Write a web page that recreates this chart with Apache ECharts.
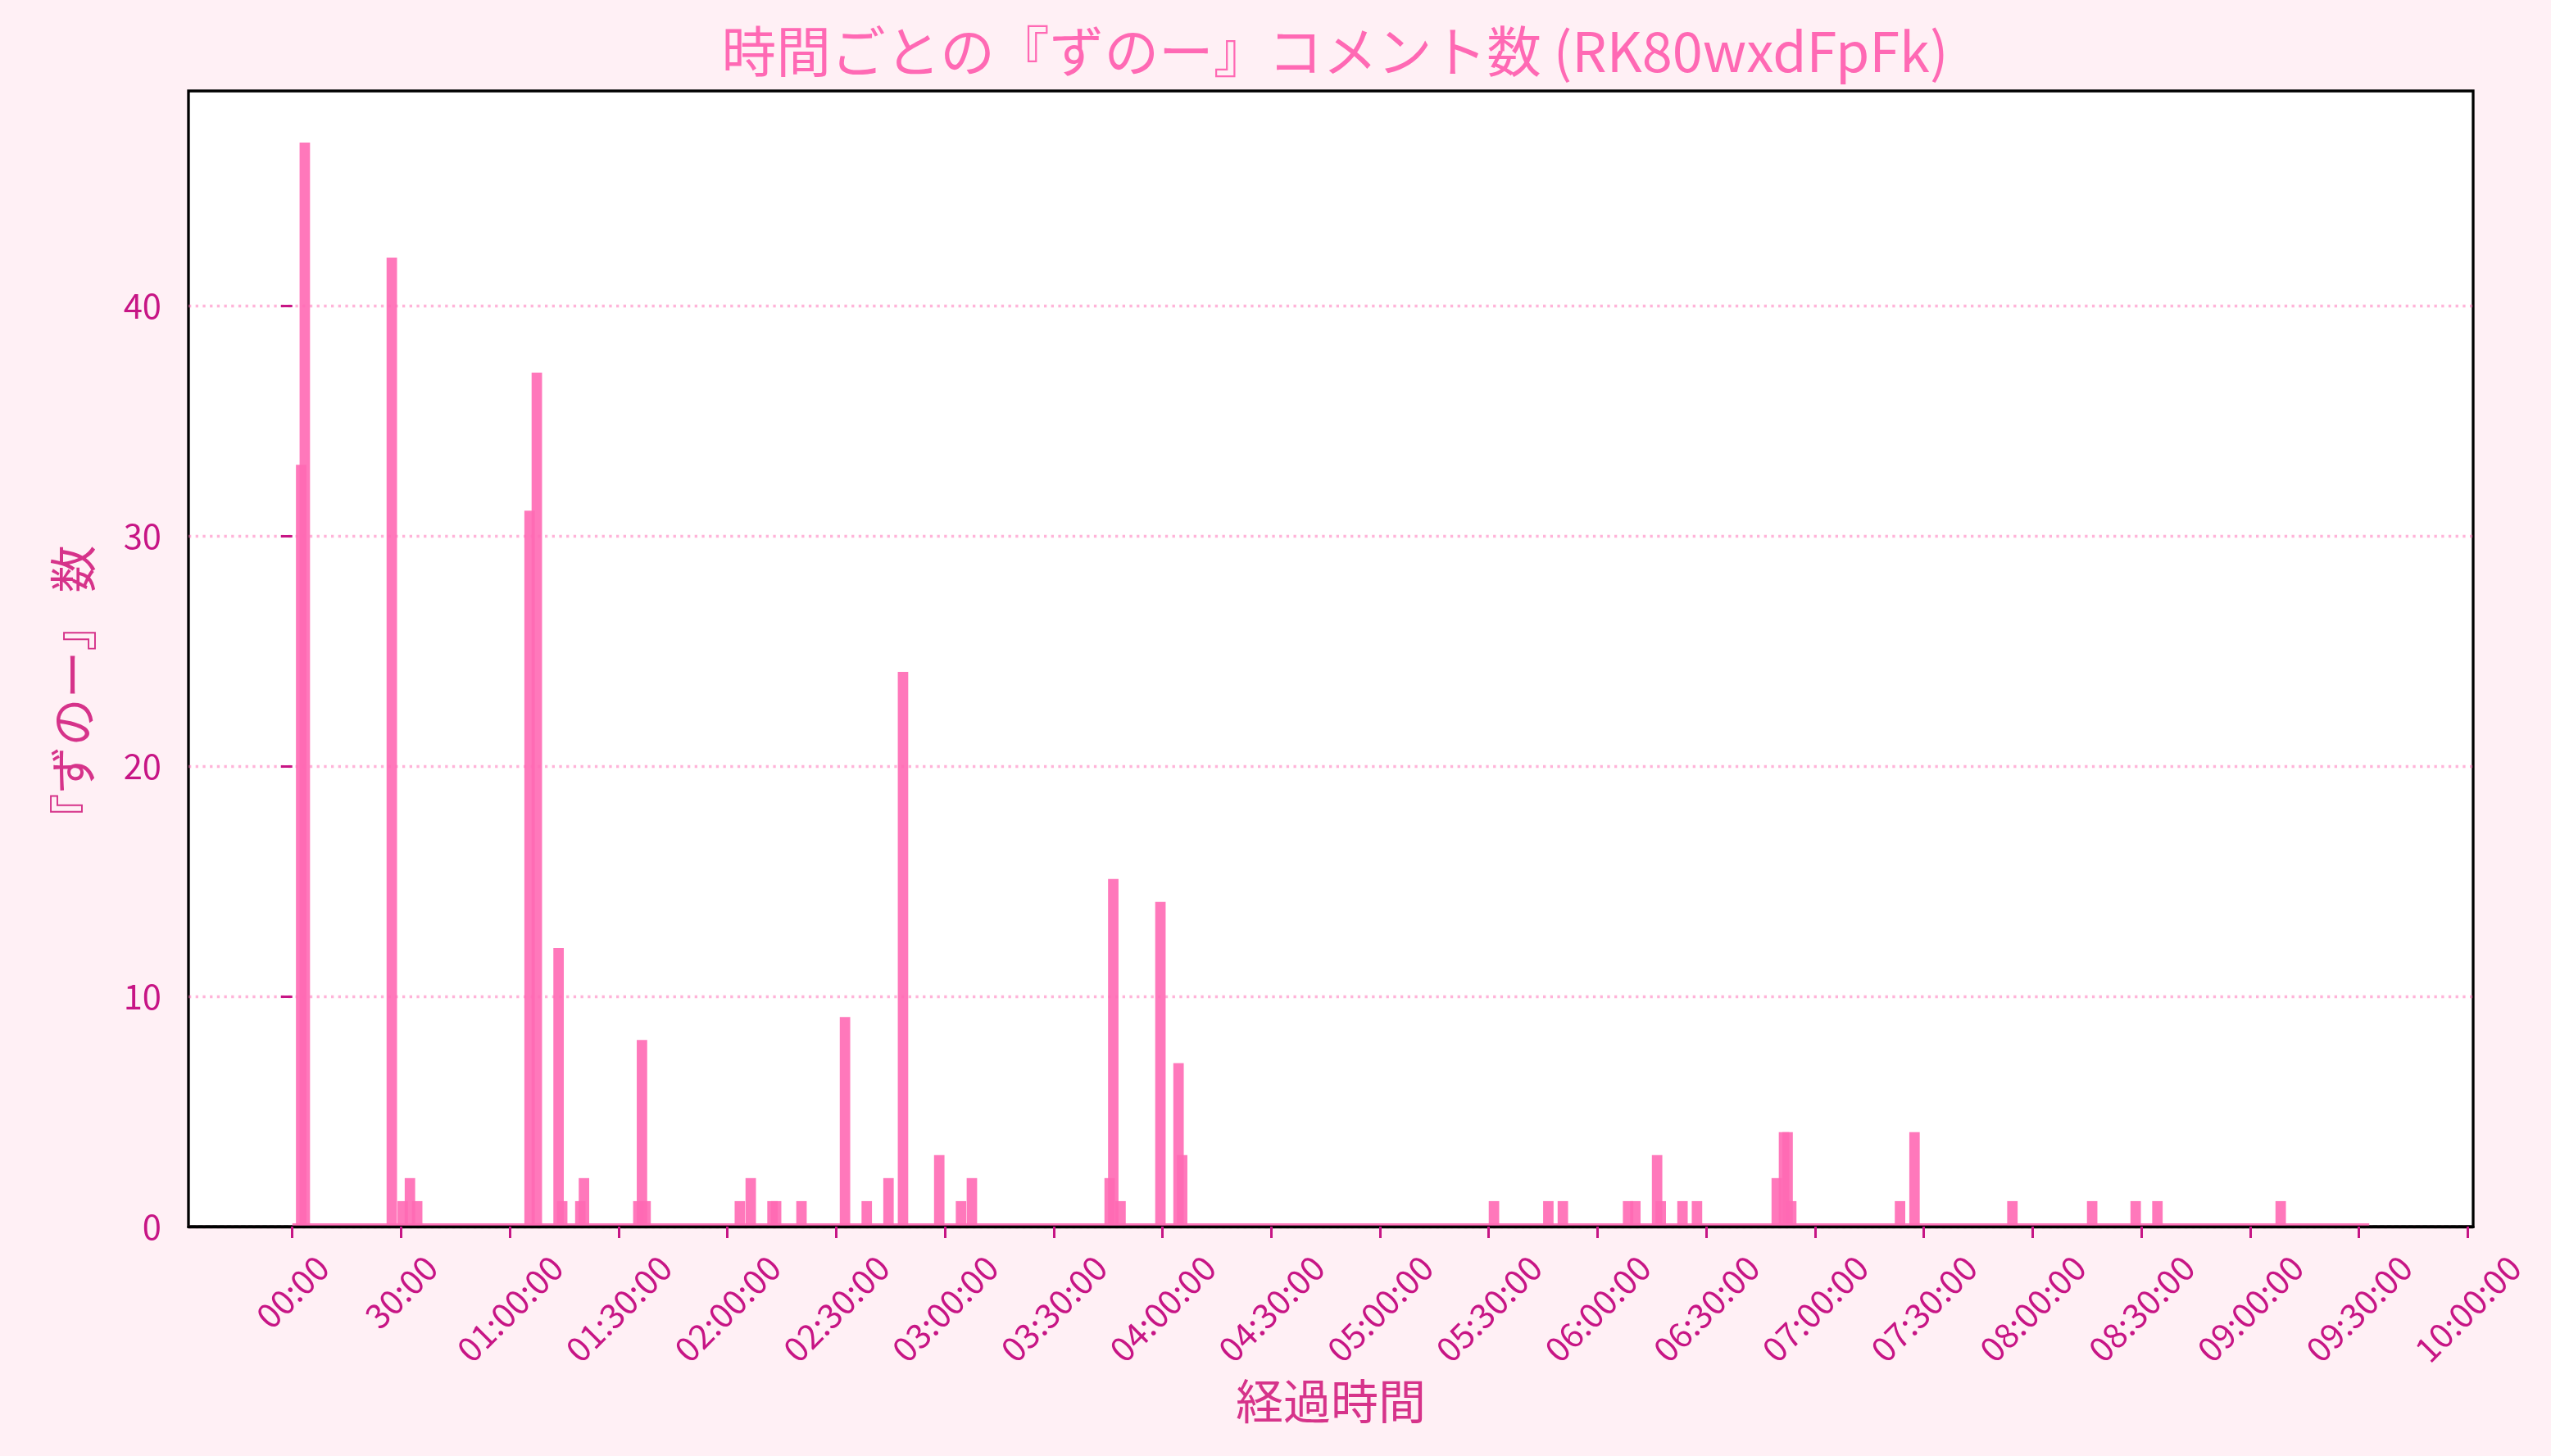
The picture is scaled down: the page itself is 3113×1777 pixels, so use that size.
<!DOCTYPE html>
<html>
<head>
<meta charset="utf-8">
<script src="https://cdn.jsdelivr.net/npm/echarts@6/dist/echarts.min.js"></script>
<style>
html,body{margin:0;padding:0;background:#FFF0F5;}
#chart{width:3113px;height:1777px;}
</style>
</head>
<body>
<div id="chart"></div>
<script>
// ---- data (minute of stream where the 1-minute bin starts, and comment count) ----
const minutes = [1,2,26,29,31,33,64,66,72,73,78,79,94,95,96,122,125,131,132,139,151,157,163,167,177,183,186,224,225,227,238,243,244,330,345,349,367,369,375,376,382,386,408,410,411,412,442,446,473,495,507,513,547];
const counts  = [33,47,42,1,2,1,31,37,12,1,1,2,1,8,1,1,2,1,1,1,9,1,2,24,3,1,2,2,15,1,14,7,3,1,1,1,1,1,3,1,1,1,2,4,4,1,1,4,1,1,1,1,1];
const firstMinute = 0;     // first bin of the stream (zero bins included)
const lastMinute = 570;    // last bin of the stream
const xTicks = [0,30,60,90,120,150,180,210,240,270,300,330,360,390,420,450,480,510,540,570,600];
const yTicks = [0,10,20,30,40];

const TITLE = '時間ごとの『ずのー』コメント数 (RK80wxdFpFk)';
const XNAME = '経過時間';
const YNAME = '『ずのー』 数';

// ---- style ----
const BAR_W = 2.88; // bar width in minutes
const EDGE = 3;     // bar edge thickness in px
const FONT = "'Noto Sans CJK JP','Noto Sans',sans-serif";
const BAR_COLOR = 'rgba(255,105,180,0.9)';
const TICK_COLOR = '#C71585';
const LABEL_COLOR = '#D6338A';
const TICK_FS = 41.7;

const dataEnd = lastMinute + BAR_W;
const xPad = 0.05 * (dataEnd - firstMinute);
const X_MIN = firstMinute - xPad, X_MAX = dataEnd + xPad;
const Y_MAX = Math.max(...counts) * 1.05;

const barData = minutes.map((m, i) => [m, counts[i]]);

function two(n){ return String(n).padStart(2,'0'); }
function fmtTime(m){
  const h = Math.floor(m/60), mm = m % 60;
  return h === 0 ? two(mm) + ':00' : two(h) + ':' + two(mm) + ':00';
}
// measure to centre short/long rotated labels like matplotlib
const cv = document.createElement('canvas').getContext('2d');
cv.font = TICK_FS + "px 'Noto Sans CJK JP'";
const wLong = cv.measureText('00:00:00').width, wShort = cv.measureText('00:00').width;
const PADS = (wLong - wShort) / 2;

const chart = echarts.init(document.getElementById('chart'), null, {renderer:'canvas'});
chart.setOption({
  backgroundColor: '#FFF0F5',
  animation: false,
  textStyle: {fontFamily: FONT},
  title: {
    text: TITLE, left: 1624, top: 24, textAlign: 'center',
    textStyle: {color: '#FF69B4', fontSize: 66.7, fontWeight: 'normal', fontFamily: FONT}
  },
  grid: {left: 230, right: 95, top: 111, bottom: 280, show: true,
         backgroundColor: '#ffffff', borderColor: '#000', borderWidth: 3.3},
  xAxis: {
    type: 'value', min: X_MIN, max: X_MAX, z: 5,
    axisLine: {show: true, onZero: false, lineStyle: {color: '#000', width: 3.3}},
    axisTick: {show: true, customValues: xTicks, length: 14, lineStyle: {color: TICK_COLOR, width: 3}},
    axisLabel: {
      customValues: xTicks, rotate: 45, align: 'center', verticalAlign: 'middle', margin: 100,
      fontSize: TICK_FS, color: TICK_COLOR, fontFamily: FONT,
      formatter: v => { const t = fmtTime(v); return v < 60 ? '{s|' + t + '}' : '{l|' + t + '}'; },
      rich: {
        s: {fontSize: TICK_FS, color: TICK_COLOR, fontFamily: FONT, padding: [0, 0, PADS, PADS]},
        l: {fontSize: TICK_FS, color: TICK_COLOR, fontFamily: FONT}
      }
    },
    splitLine: {show: false},
    name: XNAME, nameLocation: 'middle', nameGap: 184,
    nameTextStyle: {color: LABEL_COLOR, fontSize: 58, fontFamily: FONT}
  },
  yAxis: {
    type: 'value', min: 0, max: Y_MAX, z: 1,
    axisLine: {show: false},
    axisTick: {show: true, customValues: yTicks, length: 14, lineStyle: {color: TICK_COLOR, width: 3}},
    axisLabel: {customValues: yTicks, margin: 33, fontSize: TICK_FS, color: TICK_COLOR, fontFamily: FONT},
    splitLine: {show: true, lineStyle: {color: 'rgba(255,105,180,0.5)', width: 3.3, type: [3.3, 5.4]}},
    name: YNAME, nameLocation: 'middle', nameRotate: 90, nameGap: 112,
    nameTextStyle: {color: LABEL_COLOR, fontSize: 58, fontFamily: FONT, padding: [0, 84, 0, 0]}
  },
  series: [
    {
      type: 'custom', z: 2,
      data: [[firstMinute, dataEnd]],
      renderItem: (params, api) => {
        const a = api.coord([api.value(0), 0]);
        const b = api.coord([api.value(1), 0]);
        return {type: 'rect', shape: {x: a[0], y: a[1] - 4, width: b[0] - a[0], height: 4},
                style: {fill: BAR_COLOR}};
      }
    },
    {
      type: 'custom', z: 3,
      data: barData,
      renderItem: (params, api) => {
        const m = api.value(0), v = api.value(1);
        const p0 = api.coord([m, v]);
        const p1 = api.coord([m + BAR_W, 0]);
        return {type: 'rect',
                shape: {x: p0[0], y: p0[1] - EDGE, width: p1[0] - p0[0], height: p1[1] - p0[1] + EDGE},
                style: {fill: BAR_COLOR}};
      }
    }
  ]
});
</script>
</body>
</html>
